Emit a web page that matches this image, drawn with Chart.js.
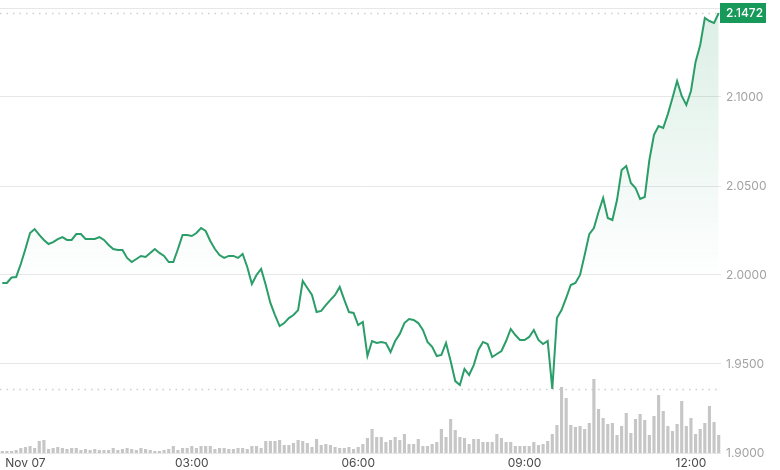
<!DOCTYPE html>
<html>
<head>
<meta charset="utf-8">
<script src="https://cdn.jsdelivr.net/npm/chart.js@4.4.0/dist/chart.umd.min.js"></script>
<style>
  html, body { margin: 0; padding: 0; background: #fff; }
  #wrap { width: 780px; height: 470px; position: relative; }
</style>
</head>
<body>
<div id="wrap"><canvas id="priceChart"></canvas></div>
<script>
// 5-minute candles, first one at 23:35 (Nov 06)
const startMinute = 23 * 60 + 35;
const stepMinutes = 5;

const prices = [
  1.9955, 1.9955, 1.9986, 1.9989, 2.0062, 2.0146, 2.0236, 2.0258, 2.0225, 2.0197,
  2.0174, 2.0185, 2.0202, 2.0213, 2.0197, 2.0197, 2.0230, 2.0230, 2.0202, 2.0202,
  2.0202, 2.0213, 2.0197, 2.0169, 2.0146, 2.0140, 2.0140, 2.0096, 2.0073, 2.0090,
  2.0107, 2.0101, 2.0124, 2.0146, 2.0124, 2.0107, 2.0073, 2.0073, 2.0146, 2.0225,
  2.0225, 2.0219, 2.0236, 2.0264, 2.0247, 2.0191, 2.0146, 2.0112, 2.0096, 2.0107,
  2.0107, 2.0096, 2.0118, 2.0045, 1.9949, 2.0000, 2.0034, 1.9944, 1.9843, 1.9775,
  1.9713, 1.9730, 1.9758, 1.9775, 1.9803, 1.9966, 1.9927, 1.9888, 1.9792, 1.9798,
  1.9831, 1.9860, 1.9888, 1.9933, 1.9860, 1.9792, 1.9787, 1.9719, 1.9736, 1.9545,
  1.9629, 1.9618, 1.9624, 1.9618, 1.9567, 1.9629, 1.9669, 1.9730, 1.9753, 1.9747,
  1.9730, 1.9691, 1.9624, 1.9596, 1.9545, 1.9551, 1.9618, 1.9517, 1.9404, 1.9382,
  1.9472, 1.9438, 1.9494, 1.9579, 1.9624, 1.9612, 1.9539, 1.9556, 1.9573, 1.9629,
  1.9697, 1.9663, 1.9635, 1.9635, 1.9652, 1.9691, 1.9635, 1.9612, 1.9629, 1.9360,
  1.9758, 1.9803, 1.9871, 1.9944, 1.9955, 2.0000, 2.0112, 2.0230, 2.0264, 2.0354,
  2.0433, 2.0320, 2.0309, 2.0421, 2.0590, 2.0612, 2.0517, 2.0489, 2.0427, 2.0438,
  2.0646, 2.0787, 2.0837, 2.0826, 2.0904, 2.0994, 2.1090, 2.1006, 2.0955, 2.1034,
  2.1197, 2.1292, 2.1444, 2.1427, 2.1416, 2.1472
];

const volumes = [
  2, 2, 2, 3, 5, 6, 7, 5, 12, 13, 4, 5, 6, 5, 4, 5, 5, 3, 4, 3,
  4, 3, 3, 3, 5, 3, 4, 5, 4, 3, 5, 4, 3, 2, 2, 3, 4, 7, 3, 5,
  5, 7, 5, 7, 7, 7, 4, 5, 5, 4, 4, 5, 5, 4, 7, 7,
  5, 12, 12, 12, 13, 8, 8, 10, 13, 12, 10, 6, 14, 8, 9, 8, 6, 5, 5, 6,
  4, 6, 9, 15, 24, 16, 16, 11, 13, 16, 13, 19, 9, 9, 14, 7, 7, 9, 11, 24,
  16, 34, 23, 16, 15, 9, 14, 14, 11, 11, 11, 19, 15, 11, 11, 7, 7,
  7, 7, 11, 8, 9, 12, 19, 28, 66, 55, 28, 26, 27, 24, 30, 74, 44, 35, 29, 30,
  18, 27, 40, 20, 34, 39, 33, 18, 37, 58, 42, 27, 22, 29, 52, 27, 35, 19, 24, 30,
  47, 31, 18
];

const tickTimes = ["00:00", "03:00", "06:00", "09:00", "12:00"];
const tickLabels = ["Nov 07", "03:00", "06:00", "09:00", "12:00"];

const yMin = 1.9;
const yMax = 2.15;
const volumeMax = 445;

const green = "#2a9d68";
const badgeGreen = "#17995a";

const times = prices.map((_, i) => {
  const m = (startMinute + i * stepMinutes) % (24 * 60);
  const h = Math.floor(m / 60);
  const mm = m % 60;
  return String(h).padStart(2, "0") + ":" + String(mm).padStart(2, "0");
});

const lastPrice = prices[prices.length - 1];
const lowPrice = Math.min(...prices);

const refLines = {
  id: "refLines",
  beforeDatasetsDraw(chart) {
    const { ctx, chartArea } = chart;
    const y = chart.scales.y;
    ctx.save();
    ctx.strokeStyle = "#cfcfcf";
    ctx.lineWidth = 1.5;
    ctx.setLineDash([1.5, 5]);
    [lastPrice, lowPrice].forEach((v) => {
      const py = Math.round(y.getPixelForValue(v)) + 0.5;
      ctx.beginPath();
      ctx.moveTo(chartArea.left, py);
      ctx.lineTo(chartArea.right, py);
      ctx.stroke();
    });
    ctx.restore();
  },
  afterDraw(chart) {
    const { ctx, chartArea } = chart;
    const py = chart.scales.y.getPixelForValue(lastPrice);
    const x = chartArea.right - 1;
    ctx.save();
    ctx.fillStyle = badgeGreen;
    ctx.fillRect(x, py - 10, 46, 20);
    ctx.fillStyle = "#fff";
    ctx.font = "500 12px Inter";
    ctx.textBaseline = "middle";
    ctx.textAlign = "left";
    ctx.fillText(lastPrice.toFixed(4), x + 6, py + 0.5);
    ctx.restore();
  },
};

new Chart(document.getElementById("priceChart"), {
  data: {
    labels: times,
    datasets: [
      {
        type: "line",
        label: "Price",
        data: prices,
        yAxisID: "y",
        order: 0,
        borderColor: green,
        borderWidth: 2,
        pointRadius: 0,
        tension: 0,
        fill: "start",
        backgroundColor: (c) => {
          const area = c.chart.chartArea;
          if (!area) return "rgba(42,157,104,0.05)";
          const g = c.chart.ctx.createLinearGradient(0, area.top, 0, area.bottom);
          g.addColorStop(0, "rgba(42,157,104,0.17)");
          g.addColorStop(0.62, "rgba(42,157,104,0)");
          g.addColorStop(1, "rgba(42,157,104,0)");
          return g;
        },
      },
      {
        type: "bar",
        label: "Volume",
        data: volumes,
        yAxisID: "yv",
        order: 1,
        backgroundColor: "#c6c6c6",
        barPercentage: 0.68,
        categoryPercentage: 1,
      },
    ],
  },
  options: {
    responsive: true,
    maintainAspectRatio: false,
    animation: false,
    layout: { padding: { top: 8, left: 0, right: 0, bottom: 0 } },
    plugins: {
      legend: { display: false },
      tooltip: { enabled: false },
    },
    scales: {
      x: {
        offset: true,
        grid: { display: false, drawTicks: false },
        border: { display: false },
        afterFit: (s) => {
          s.height = 17;
          s.paddingLeft = 0;
          s.paddingRight = 0;
        },
        ticks: {
          autoSkip: false,
          maxRotation: 0,
          padding: 3,
          color: "#4a4a4a",
          font: { family: "Inter", size: 12 },
          callback: (v, i) => {
            const k = tickTimes.indexOf(times[i]);
            return k >= 0 ? tickLabels[k] : "";
          },
        },
      },
      y: {
        position: "right",
        min: yMin,
        max: yMax,
        grid: { color: "#e7e7e7", drawTicks: false, lineWidth: 1 },
        border: { display: false },
        afterFit: (s) => {
          s.width = 59;
          s.paddingTop = 0;
          s.paddingBottom = 0;
        },
        ticks: {
          stepSize: 0.05,
          padding: 5,
          color: "#a3a3a3",
          font: { family: "Inter", size: 12 },
          callback: (v) => (Math.abs(v - yMax) < 1e-6 ? "" : Number(v).toFixed(4)),
        },
      },
      yv: {
        display: false,
        min: 0,
        max: volumeMax,
      },
    },
  },
  plugins: [refLines],
});
</script>
</body>
</html>
